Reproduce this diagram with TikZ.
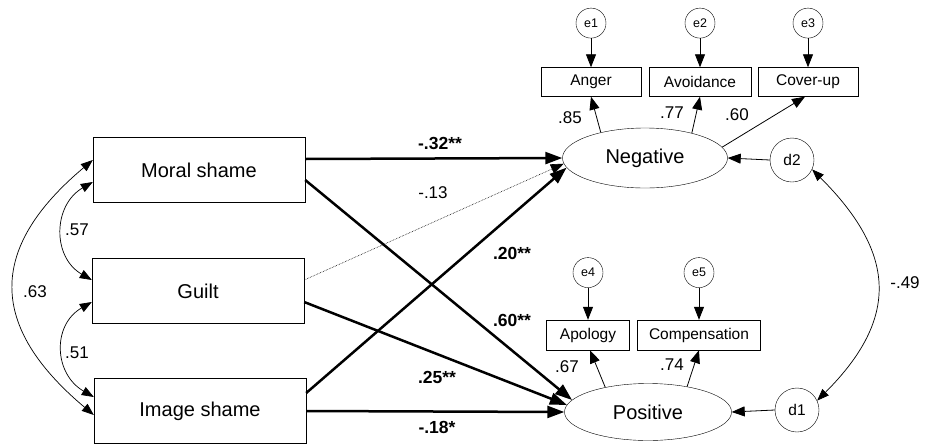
\documentclass[tikz,border=0pt]{standalone}
\usepackage{fontspec}
\setmainfont{Liberation Sans}
\usetikzlibrary{positioning, arrows.meta, shapes.geometric}

\begin{document}
\begin{tikzpicture}[
      x=1pt, y=1pt,
      factor/.style={rectangle, draw, minimum width=212pt, minimum height=65pt, inner sep=0pt, font=\fontsize{20}{23}\selectfont},
      latent/.style={ellipse, draw, inner sep=0pt, font=\fontsize{20}{23}\selectfont},
      item/.style={rectangle, draw, minimum height=29pt, inner sep=0pt, font=\fontsize{15.5}{18}\selectfont},
      err/.style={circle, draw, minimum size=30pt, inner sep=0pt, font=\fontsize{12.5}{15}\selectfont},
      dist/.style={circle, draw, minimum size=44pt, inner sep=0pt, font=\fontsize{15.5}{18}\selectfont},
      effect/.style={-{Triangle[length=17pt, width=12pt]}, line width=2.5pt},
      thinarrow/.style={-{Triangle[length=13pt, width=10pt]}, line width=0.8pt},
      cov/.style={{Triangle[length=12pt, width=9pt]}-{Triangle[length=12pt, width=9pt]}, line width=0.7pt},
      coef/.style={font=\fontsize{17.5}{20}\selectfont\bfseries},
      num/.style={font=\fontsize{17}{20}\selectfont}
    ]
      \useasboundingbox (0,0) rectangle (929,-445);

      % Predictors
      \node[factor] (moral) at (199,-170) {Moral shame};
      \node[factor] (guilt) at (198,-291) {Guilt};
      \node[factor] (image) at (200,-411) {Image shame};

      % Latent outcomes
      \node[latent, minimum width=165pt, minimum height=60pt] (neg) at (645,-158) {Negative};
      \node[latent, minimum width=167pt, minimum height=57pt] (pos) at (648,-412) {Positive};

      % Indicators
      \node[item, minimum width=100pt] (anger) at (591,-82) {Anger};
      \node[item, minimum width=102pt] (avoid) at (700,-82) {Avoidance};
      \node[item, minimum width=100pt] (cover) at (808,-82) {Cover-up};
      \node[item, minimum width=83pt, minimum height=30pt] (apology) at (588,-335) {Apology};
      \node[item, minimum width=123pt, minimum height=30pt] (comp) at (699,-335) {Compensation};

      % Errors and disturbances
      \node[err, above=29pt of anger] (e1) {e1};
      \node[err, above=29pt of avoid] (e2) {e2};
      \node[err, above=29pt of cover] (e3) {e3};
      \node[err, above=32pt of apology] (e4) {e4};
      \node[err, above=32pt of comp] (e5) {e5};
      \node[dist] (d2) at (792,-160) {d2};
      \node[dist] (d1) at (797,-410) {d1};

      % Structural paths
      \draw[effect] ([yshift=11pt]moral.east) -- (neg.west);
      \draw[effect] ([yshift=-10pt]moral.east) -- (pos.171);
      \draw[thinarrow, line width=0.6pt, densely dotted] ([yshift=11pt]guilt.east) -- (neg.184);
      \draw[effect] ([yshift=-11pt]guilt.east) -- (pos.175);
      \draw[effect] ([yshift=18pt]image.east) -- (neg.187);
      \draw[effect] (image.east) -- (pos.west);

      % Loadings
      \draw[thinarrow] (neg.150) -- (anger.south);
      \draw[thinarrow] (neg.28) -- (avoid.south);
      \draw[thinarrow] (neg.8) -- ([xshift=-3pt]cover.south);
      \draw[thinarrow] (pos.150) -- ([xshift=2pt]apology.south);
      \draw[thinarrow] (pos.33) -- (comp.south);

      \draw[thinarrow] (e1) -- (anger);
      \draw[thinarrow] (e2) -- (avoid);
      \draw[thinarrow] (e3) -- (cover);
      \draw[thinarrow] (e4) -- (apology);
      \draw[thinarrow] (e5) -- (comp);
      \draw[thinarrow] (d2.west) -- (neg.east);
      \draw[thinarrow] (d1.west) -- (pos.east);

      % Covariances
      \draw[cov] ([yshift=-12pt]moral.west) to[out=210, in=150, looseness=1.2] ([yshift=11pt]guilt.west);
      \draw[cov] ([yshift=-11pt]guilt.west) to[out=210, in=150, looseness=1.24] ([yshift=14pt]image.west);
      \draw[cov] ([yshift=10pt]moral.west) to[out=220, in=140, looseness=1.38] ([yshift=-4pt]image.west);
      \draw[cov] (d2.-25) to[out=-45, in=45, looseness=1.3] (d1.25);

      % Coefficients
      \node[coef] (cmn) at (440,-143) {-.32**};
      \node[num] (cgn) at (433,-193) {-.13};
      \node[coef] (cin) at (512,-253) {.20**};
      \node[coef] (cmp) at (512,-320) {.60**};
      \node[coef] (cgp) at (437,-377) {.25**};
      \node[coef] (cip) at (437,-427) {-.18*};
      \node[num] (r57) at (77,-230) {.57};
      \node[num] (r51) at (77,-353) {.51};
      \node[num] (r63) at (35,-292) {.63};
      \node[num] (r49) at (905,-283) {-.49};
      \node[num] (l85) at (570,-118) {.85};
      \node[num] (l77) at (672,-113) {.77};
      \node[num] (l60) at (737,-115) {.60};
      \node[num] (l67) at (567,-367) {.67};
      \node[num] (l74) at (672,-365) {.74};

    \end{tikzpicture}
\end{document}
